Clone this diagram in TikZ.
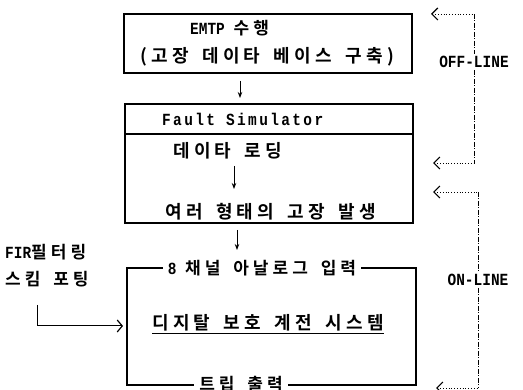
\documentclass[tikz,border=0pt]{standalone}
\usepackage{fontspec}
\usetikzlibrary{arrows.meta}
\setmainfont{Liberation Mono}[BoldFont={Liberation Mono Bold}]
\newfontfamily\kr[LetterSpace=24,WordSpace=1.6]{Noto Sans CJK KR Bold}
\newfontfamily\la[FakeStretch=0.85]{Liberation Mono Bold}
\newfontfamily\las[FakeStretch=0.85,LetterSpace=14]{Liberation Mono Bold}
\tikzset{
  boxline/.style={line width=1.2pt},
  txt/.style={inner sep=0pt, anchor=west, font=\fontsize{18}{20}\selectfont},
  gaptxt/.style={inner ysep=0pt, inner xsep=5pt, font=\fontsize{17}{19}\selectfont},
  lbl/.style={inner sep=2pt, fill=white, font=\fontsize{17}{19}\selectfont\la},
  down/.style={line width=1pt, -{Stealth[length=6pt,width=4.5pt]}},
  dotline/.style={line width=0.8pt, dotted, {Straight Barb[length=6pt,width=12pt,line width=1.2pt]}-},
  dashline/.style={line width=1pt, dash pattern=on 5pt off 1.5pt on 1pt off 1.5pt},
  fir/.style={line width=1pt, -{Straight Barb[length=5pt,width=12pt,line width=1.2pt]}}
}
\begin{document}
\begin{tikzpicture}[x=1pt,y=-1pt]
\useasboundingbox (0,0) rectangle (523,390);
\clip (0,0) rectangle (523,390);
% box 1
\node[boxline, draw, minimum width=288pt, minimum height=59pt, inner sep=0pt] (b1) at (268,43.5) {};
\node[txt] (t1a) at (190,28) {\la\fontsize{17}{19}\selectfont EMTP \kr\fontsize{17}{19}\selectfont 수행};
\node[txt] (t1b) at (140,57) {\kr (고장 데이타 베이스 구축)};
% arrow 1
\coordinate (a1s) at (240,81);
\coordinate (a1e) at (240,98);
\draw[down] (a1s) -- (a1e);
% box 2
\node[boxline, draw, minimum width=288pt, minimum height=119pt, inner sep=0pt] (b2) at (269,163.5) {};
\coordinate (d1) at (125,134);
\coordinate (d2) at (413,134);
\draw[boxline] (d1) -- (d2);
\node[txt] (t2a) at (162,119) {\las\fontsize{17}{19}\selectfont Fault Simulator};
\node[txt] (t2b) at (173,151) {\kr 데이타 로딩};
\coordinate (a2s) at (234,166);
\coordinate (a2e) at (234,189);
\draw[down] (a2s) -- (a2e);
\node[txt] (t2c) at (165,212) {\kr 여러 형태의 고장 발생};
% arrow 3
\coordinate (a3s) at (237,230);
\coordinate (a3e) at (237,250);
\draw[down] (a3s) -- (a3e);
% box 3
\coordinate (c3tl) at (127,268);
\coordinate (c3bl) at (127,385);
\coordinate (c3tr) at (416,268);
\coordinate (c3br) at (416,385);
\node[gaptxt] (t3a) at (262,268) {\la\fontsize{17}{19}\selectfont 8 \kr\fontsize{17}{19}\selectfont 채널 아날로그 입력};
\node[gaptxt] (t3c) at (241,384) {\kr 트립 출력};
\node[txt] (t3b) at (152,323) {\kr 디지탈 보호 계전 시스템};
\draw[line width=1pt] ([yshift=-4pt]t3b.base west) -- ([yshift=-4pt]t3b.base east);
\draw[boxline] (t3a.west) -- (c3tl) -- (c3bl) -- (t3c.west |- c3bl);
\draw[boxline] (t3a.east) -- (c3tr) -- (c3br) -- (t3c.east |- c3br);
% FIR
\node[txt, font=\fontsize{17}{19}\selectfont] (f1) at (5,252) {\la\fontsize{17}{19}\selectfont FIR\kr\fontsize{17}{19}\selectfont 필터링};
\node[txt, font=\fontsize{17}{19}\selectfont] (f2) at (5,279) {\kr 스킴 포팅};
\coordinate (fa) at (37,305);
\coordinate (fb) at (37,326);
\coordinate (fc) at (123,326);
\draw[fir] (fa) -- (fb) -- (fc);
% OFF-LINE
\coordinate (o1) at (431,14);
\coordinate (o1c) at (474,14);
\coordinate (o2c) at (474,163);
\coordinate (o2) at (433,163);
\node[lbl] (off) at (474,62) {OFF-LINE};
\draw[dotline] (o1) -- (o1c);
\draw[dotline] (o2) -- (o2c);
\draw[dashline] (o1c) -- (off.north);
\draw[dashline] (off.south) -- (o2c);
% ON-LINE
\coordinate (n1) at (433,192);
\coordinate (n1c) at (478,192);
\coordinate (n2c) at (478,388);
\coordinate (n2) at (436,388);
\node[lbl] (on) at (478,280) {ON-LINE};
\draw[dotline] (n1) -- (n1c);
\draw[dotline] (n2) -- (n2c);
\draw[dashline] (n1c) -- (on.north);
\draw[dashline] (on.south) -- (n2c);
\end{tikzpicture}
\end{document}
